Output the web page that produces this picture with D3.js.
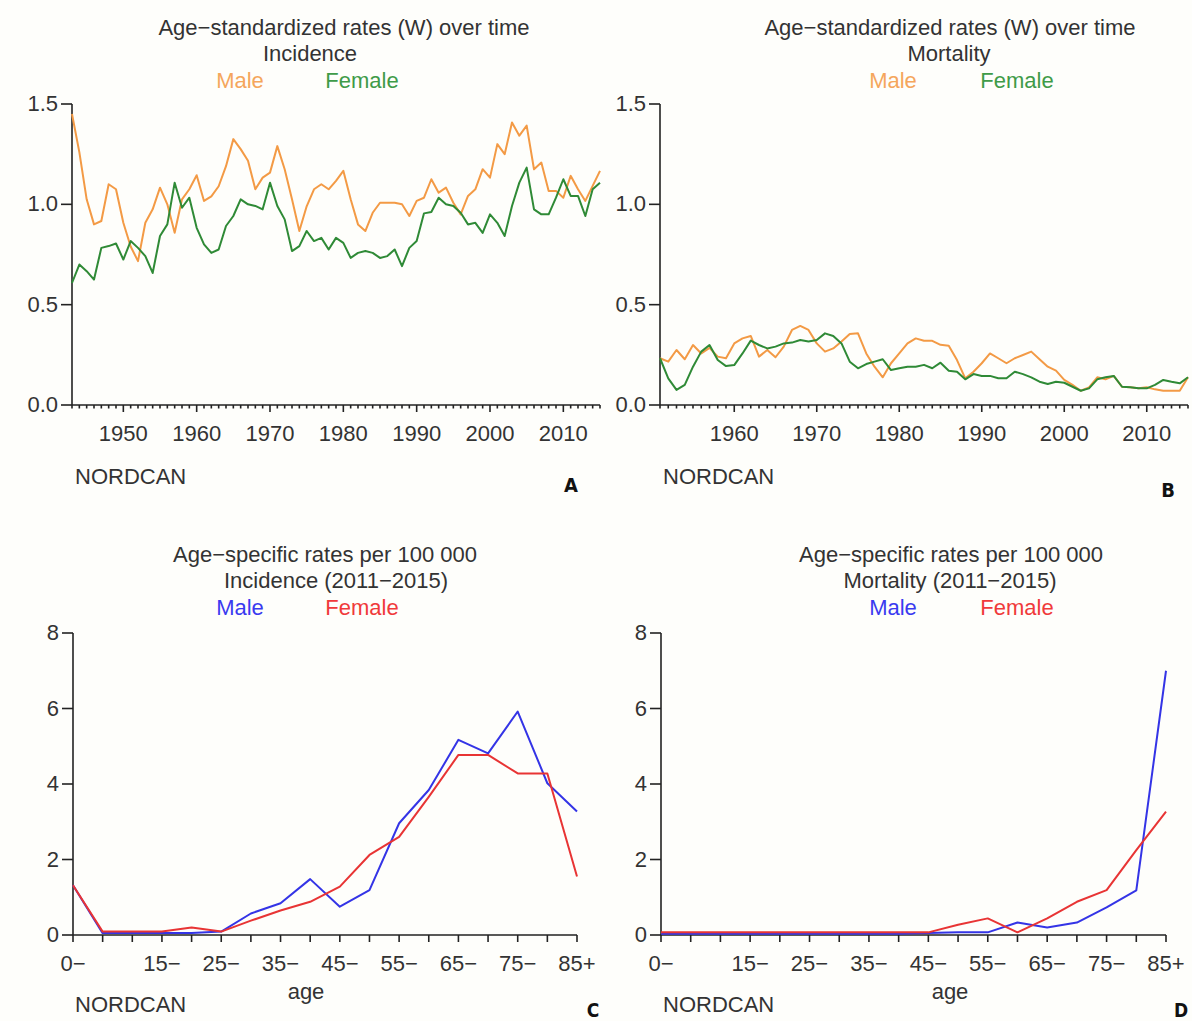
<!DOCTYPE html>
<html>
<head>
<meta charset="utf-8">
<script src="https://cdn.jsdelivr.net/npm/d3@7"></script>
<style>
  html, body { margin: 0; padding: 0; background: #fefefb; }
  svg { display: block; }
  text { font-family: "Liberation Sans", Arial, Helvetica, sans-serif; fill: #333; }
  .panel-tag { font-family: "Liberation Sans Narrow", "Arial Narrow", "DejaVu Sans Condensed", sans-serif; font-weight: bold; fill: #111; }
</style>
</head>
<body>
<svg id="chart" width="1192" height="1021"></svg>
<script>
// ---- Age-standardized rates (W), 1943-2015 incidence and 1951-2015 mortality ----
const incidenceYears = d3.range(1943, 2016);
const incidenceMale = [
  1.45, 1.26, 1.025, 0.90, 0.917, 1.10, 1.075, 0.908, 0.79, 0.717,
  0.908, 0.975, 1.083, 1.0, 0.858, 1.025, 1.075, 1.145, 1.017, 1.04,
  1.09, 1.19, 1.325, 1.275, 1.217, 1.075, 1.133, 1.158, 1.29, 1.175,
  1.025, 0.867, 0.99, 1.075, 1.10, 1.075, 1.117, 1.167, 1.025, 0.90,
  0.867, 0.958, 1.008, 1.008, 1.008, 1.0, 0.942, 1.017, 1.033, 1.125,
  1.058, 1.083, 1.008, 0.95, 1.042, 1.075, 1.175, 1.133, 1.30, 1.25,
  1.408, 1.342, 1.392, 1.175, 1.208, 1.067, 1.067, 1.033, 1.142, 1.075,
  1.017, 1.092, 1.167
];
const incidenceFemale = [
  0.608, 0.70, 0.667, 0.625, 0.783, 0.792, 0.805, 0.725, 0.817, 0.783,
  0.742, 0.658, 0.842, 0.90, 1.108, 0.983, 1.033, 0.883, 0.80, 0.758,
  0.775, 0.892, 0.942, 1.025, 1.0, 0.992, 0.975, 1.108, 0.992, 0.925,
  0.767, 0.792, 0.867, 0.817, 0.833, 0.775, 0.833, 0.808, 0.733, 0.758,
  0.767, 0.758, 0.733, 0.742, 0.775, 0.692, 0.783, 0.817, 0.955, 0.962,
  1.033, 1.0, 0.992, 0.958, 0.90, 0.908, 0.858, 0.95, 0.908, 0.842,
  0.992, 1.108, 1.183, 0.975, 0.95, 0.95, 1.033, 1.125, 1.042, 1.042,
  0.942, 1.075, 1.108
];
const mortalityYears = d3.range(1951, 2016);
const mortalityMale = [
  0.233, 0.216, 0.274, 0.228, 0.299, 0.257, 0.285, 0.241, 0.233, 0.307,
  0.332, 0.344, 0.241, 0.274, 0.238, 0.291, 0.374, 0.394, 0.374, 0.307,
  0.266, 0.282, 0.316, 0.354, 0.357, 0.257, 0.191, 0.138, 0.208, 0.257,
  0.307, 0.332, 0.32, 0.32, 0.30, 0.295, 0.224, 0.133, 0.166, 0.208,
  0.257, 0.233, 0.208, 0.233, 0.249, 0.266, 0.228, 0.191, 0.171, 0.125,
  0.10, 0.071, 0.088, 0.138, 0.128, 0.145, 0.091, 0.088, 0.083, 0.088,
  0.078, 0.071, 0.071, 0.071, 0.138
];
const mortalityFemale = [
  0.233, 0.133, 0.075, 0.10, 0.191, 0.266, 0.299, 0.224, 0.194, 0.199,
  0.257, 0.321, 0.299, 0.282, 0.291, 0.307, 0.311, 0.324, 0.316, 0.324,
  0.357, 0.344, 0.307, 0.216, 0.183, 0.204, 0.216, 0.228, 0.174, 0.183,
  0.191, 0.191, 0.2, 0.183, 0.211, 0.171, 0.166, 0.128, 0.154, 0.145,
  0.145, 0.133, 0.133, 0.166, 0.154, 0.138, 0.116, 0.105, 0.116, 0.111,
  0.091, 0.071, 0.083, 0.128, 0.138, 0.145, 0.091, 0.088, 0.083, 0.083,
  0.10, 0.125, 0.116, 0.108, 0.138
];
const yearTicks = [1950, 1960, 1970, 1980, 1990, 2000, 2010];
const asrTicks = [0, 0.5, 1.0, 1.5];

// ---- Age-specific rates per 100 000, 2011-2015 ----
const ageGroups = ["0−", "5−", "10−", "15−", "20−", "25−", "30−", "35−", "40−",
                   "45−", "50−", "55−", "60−", "65−", "70−", "75−", "80−", "85+"];
const ageTickLabels = ["0−", "15−", "25−", "35−", "45−", "55−", "65−", "75−", "85+"];
const ageIncMale   = [1.32, 0.05, 0.05, 0.05, 0.05, 0.09, 0.57, 0.84, 1.48,
                      0.75, 1.19, 2.96, 3.84, 5.17, 4.81, 5.92, 4.02, 3.27];
const ageIncFemale = [1.32, 0.09, 0.09, 0.09, 0.20, 0.09, 0.38, 0.65, 0.88,
                      1.28, 2.12, 2.60, 3.66, 4.77, 4.77, 4.28, 4.28, 1.55];
const ageMortMale   = [0.03, 0.03, 0.03, 0.03, 0.03, 0.03, 0.03, 0.03, 0.03,
                       0.05, 0.07, 0.07, 0.33, 0.20, 0.33, 0.73, 1.18, 7.0];
const ageMortFemale = [0.07, 0.07, 0.07, 0.07, 0.07, 0.07, 0.07, 0.07, 0.07,
                       0.07, 0.27, 0.44, 0.07, 0.44, 0.88, 1.19, 2.25, 3.27];
const ageRateTicks = [0, 2, 4, 6, 8];

const COL = {
  maleT: "#f39a45", femaleT: "#2f8a36",
  maleA: "#3434e6", femaleA: "#e83434",
  legMaleT: "#f5a65c", legFemaleT: "#3f9b48",
  legMaleA: "#3a3af0", legFemaleA: "#f03a3a"
};
const FS = 22;

const svg = d3.select("#chart");

function text(x, y, str, opts = {}) {
  const t = svg.append("text")
    .attr("x", x).attr("y", y)
    .attr("font-size", opts.size || FS)
    .attr("text-anchor", opts.anchor || "middle")
    .text(str);
  if (opts.fill) t.style("fill", opts.fill);
  if (opts.cls) t.attr("class", opts.cls);
  return t;
}

function drawAxes(x, y, yTicks, yFmt, xTickDefs) {
  const g = svg.append("g").attr("stroke", "#222").attr("stroke-width", 1.6).attr("fill", "none");
  const [x0, x1] = x.range();
  const y0 = y(yTicks[0]), yTop = y(yTicks[yTicks.length - 1]);
  // y axis
  g.append("line").attr("x1", x0).attr("x2", x0).attr("y1", yTop).attr("y2", y0);
  yTicks.forEach(v => {
    g.append("line").attr("x1", x0 - 11).attr("x2", x0).attr("y1", y(v)).attr("y2", y(v));
    text(x0 - 14, y(v) + 7, yFmt(v), { anchor: "end" });
  });
  // x axis
  g.append("line").attr("x1", x0).attr("x2", x1).attr("y1", y0).attr("y2", y0);
  xTickDefs.forEach(d => {
    g.append("line").attr("x1", x(d.v)).attr("x2", x(d.v))
      .attr("y1", y0).attr("y2", y0 + d.len);
    if (d.label) text(x(d.v), y0 + 36, d.label);
  });
}

function drawLine(x, y, xs, vals, color) {
  const line = d3.line().x((d, i) => x(xs[i])).y(d => y(d));
  svg.append("path").datum(vals)
    .attr("fill", "none").attr("stroke", color)
    .attr("stroke-width", 2).attr("stroke-linejoin", "round")
    .attr("d", line);
}

// ---------- Panel A: incidence over time ----------
{
  const x = d3.scaleLinear().domain([1943, 2015]).range([72, 600]);
  const y = d3.scaleLinear().domain([0, 1.5]).range([405, 104]);
  const defs = incidenceYears.map(v => ({ v, len: v % 10 === 0 ? 7 : 3.5, label: yearTicks.includes(v) ? String(v) : null }));
  drawAxes(x, y, asrTicks, d3.format(".1f"), defs);
  drawLine(x, y, incidenceYears, incidenceMale, COL.maleT);
  drawLine(x, y, incidenceYears, incidenceFemale, COL.femaleT);
  text(344, 35, "Age−standardized rates (W) over time");
  text(310, 61, "Incidence");
  text(240, 88, "Male", { fill: COL.legMaleT });
  text(362, 88, "Female", { fill: COL.legFemaleT });
  text(75, 484, "NORDCAN", { anchor: "start" });
  text(571, 492, "A", { cls: "panel-tag", size: 20 });
}

// ---------- Panel B: mortality over time ----------
{
  const x = d3.scaleLinear().domain([1951, 2015]).range([660, 1188]);
  const y = d3.scaleLinear().domain([0, 1.5]).range([405, 104]);
  const defs = mortalityYears.map(v => ({ v, len: v % 10 === 0 ? 7 : 3.5, label: yearTicks.includes(v) ? String(v) : null }));
  drawAxes(x, y, asrTicks, d3.format(".1f"), defs);
  drawLine(x, y, mortalityYears, mortalityMale, COL.maleT);
  drawLine(x, y, mortalityYears, mortalityFemale, COL.femaleT);
  text(950, 35, "Age−standardized rates (W) over time");
  text(949, 61, "Mortality");
  text(893, 88, "Male", { fill: COL.legMaleT });
  text(1017, 88, "Female", { fill: COL.legFemaleT });
  text(663, 484, "NORDCAN", { anchor: "start" });
  text(1168, 497, "B", { cls: "panel-tag", size: 20 });
}

// ---------- Panel C: age-specific incidence ----------
{
  const idx = d3.range(ageGroups.length);
  const x = d3.scaleLinear().domain([0, ageGroups.length - 1]).range([73, 577]);
  const y = d3.scaleLinear().domain([0, 8]).range([935, 633]);
  const defs = idx.map(i => ({ v: i, len: 7, label: ageTickLabels.includes(ageGroups[i]) ? ageGroups[i] : null }));
  drawAxes(x, y, ageRateTicks, d3.format("d"), defs);
  drawLine(x, y, idx, ageIncMale, COL.maleA);
  drawLine(x, y, idx, ageIncFemale, COL.femaleA);
  text(325, 562, "Age−specific rates per 100 000");
  text(336, 588, "Incidence (2011−2015)");
  text(240, 615, "Male", { fill: COL.legMaleA });
  text(362, 615, "Female", { fill: COL.legFemaleA });
  text(306, 999, "age");
  text(75, 1012, "NORDCAN", { anchor: "start" });
  text(593, 1017, "C", { cls: "panel-tag", size: 19 });
}

// ---------- Panel D: age-specific mortality ----------
{
  const idx = d3.range(ageGroups.length);
  const x = d3.scaleLinear().domain([0, ageGroups.length - 1]).range([661, 1166]);
  const y = d3.scaleLinear().domain([0, 8]).range([935, 633]);
  const defs = idx.map(i => ({ v: i, len: 7, label: ageTickLabels.includes(ageGroups[i]) ? ageGroups[i] : null }));
  drawAxes(x, y, ageRateTicks, d3.format("d"), defs);
  drawLine(x, y, idx, ageMortMale, COL.maleA);
  drawLine(x, y, idx, ageMortFemale, COL.femaleA);
  text(951, 562, "Age−specific rates per 100 000");
  text(950, 588, "Mortality (2011−2015)");
  text(893, 615, "Male", { fill: COL.legMaleA });
  text(1017, 615, "Female", { fill: COL.legFemaleA });
  text(950, 999, "age");
  text(663, 1012, "NORDCAN", { anchor: "start" });
  text(1181, 1017, "D", { cls: "panel-tag", size: 19 });
}
</script>
</body>
</html>
